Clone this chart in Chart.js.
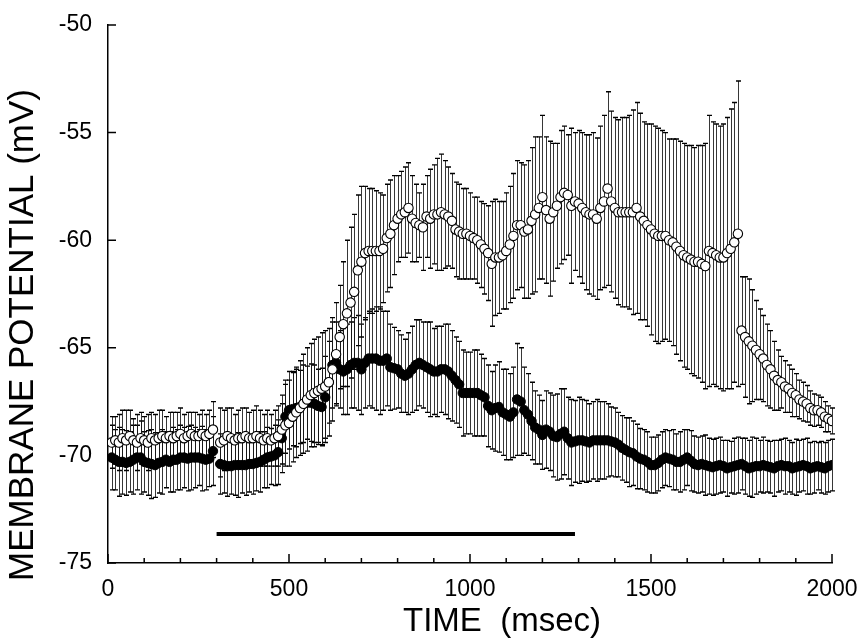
<!DOCTYPE html>
<html>
<head>
<meta charset="utf-8">
<script src="https://cdn.jsdelivr.net/npm/chart.js@4/dist/chart.umd.min.js"></script>
<style>
html,body{margin:0;padding:0;background:#fff;}
canvas{display:block;}
</style>
</head>
<body>
<canvas id="c" width="860" height="641"></canvas>
<script>
// ---- data (time in msec, membrane potential in mV) ----
const timeMs = [
 10,20,30,40,50,60,70,80,90,100,
 110,120,130,140,150,160,170,180,190,200,
 210,220,230,240,250,260,270,280,290,300,
 310,320,330,340,350,360,370,380,390,400,
 410,420,430,440,450,460,470,480,490,500,
 510,520,530,540,550,560,570,580,590,600,
 610,620,630,640,650,660,670,680,690,700,
 710,720,730,740,750,760,770,780,790,800,
 810,820,830,840,850,860,870,880,890,900,
 910,920,930,940,950,960,970,980,990,1000,
 1010,1020,1030,1040,1050,1060,1070,1080,1090,1100,
 1110,1120,1130,1140,1150,1160,1170,1180,1190,1200,
 1210,1220,1230,1240,1250,1260,1270,1280,1290,1300,
 1310,1320,1330,1340,1350,1360,1370,1380,1390,1400,
 1410,1420,1430,1440,1450,1460,1470,1480,1490,1500,
 1510,1520,1530,1540,1550,1560,1570,1580,1590,1600,
 1610,1620,1630,1640,1650,1660,1670,1680,1690,1700,
 1710,1720,1730,1740,1750,1760,1770,1780,1790,1800,
 1810,1820,1830,1840,1850,1860,1870,1880,1890,1900,
 1910,1920,1930,1940,1950,1960,1970,1980,1990,2000
];
// open circles: mean and error (mV)
const openMean = [
 -69.4,-69.3,-69.4,-69.2,-69.3,-69.1,-69.3,-69.4,-69.2,-69.3,
 -69.4,-69.2,-69.3,-69.2,-69.1,-69.2,-69.1,-69.2,-69.1,-69.0,
 -69.2,-69.1,-69.0,-69.1,-69.1,-69.0,-69.1,-69.0,-68.8,null,
 -69.4,-69.3,-69.1,-69.2,-69.3,-69.2,-69.2,-69.1,-69.2,-69.2,
 -69.1,-69.2,-69.3,-69.2,-69.3,-69.2,-69.1,-68.8,-68.6,-68.5,
 -68.2,-68.0,-67.8,-67.6,-67.4,-67.2,-67.1,-67.0,-66.9,-66.8,
 -66.6,-66.0,-65.3,-64.5,-63.9,-63.4,-62.9,-62.4,-61.4,-61.0,
 -60.6,-60.5,-60.5,-60.5,-60.5,-60.4,-59.9,-59.7,-59.3,-59.0,
 -58.8,-58.7,-58.5,-59.0,-59.2,-59.3,-59.4,-58.9,-59.0,-58.8,
 -58.8,-58.7,-58.8,-58.9,-59.1,-59.5,-59.6,-59.7,-59.7,-59.8,
 -59.9,-60.0,-60.2,-60.4,-60.6,-61.1,-60.8,-60.8,-60.7,-60.5,
 -60.2,-59.8,-59.3,-59.3,-59.6,-59.5,-59.1,-58.8,-58.5,-58.0,
 -58.6,-59.0,-58.7,-58.4,-58.0,-57.8,-57.9,-58.4,-58.2,-58.3,
 -58.5,-58.7,-58.8,-58.8,-59.0,-58.5,-58.2,-57.6,-58.2,-58.5,
 -58.7,-58.7,-58.7,-58.7,-58.7,-58.5,-58.9,-59.1,-59.3,-59.5,
 -59.7,-59.8,-59.8,-59.8,-60.0,-60.1,-60.3,-60.5,-60.7,-60.8,
 -60.9,-61.0,-61.0,-61.1,-61.2,-60.5,-60.6,-60.7,-60.8,-60.8,
 -60.6,-60.4,-60.1,-59.7,-64.2,-64.5,-64.7,-64.9,-65.1,-65.3,
 -65.5,-65.8,-66.0,-66.3,-66.5,-66.6,-66.8,-66.9,-67.1,-67.2,
 -67.4,-67.5,-67.6,-67.8,-67.9,-67.9,-68.0,-68.2,-68.3,-68.4
];
const openErr = [
 1.2,1.1,1.3,1.3,1.4,1.2,1.0,1.3,1.2,1.1,
 1.3,1.2,1.2,1.3,1.2,1.0,1.1,1.2,1.1,1.2,
 1.1,1.1,1.0,1.1,1.0,1.1,1.0,1.1,1.3,null,
 1.6,1.4,1.3,1.4,1.2,1.3,1.4,1.3,1.2,1.3,
 1.4,1.3,1.2,1.3,1.2,1.3,1.4,1.6,1.9,2.0,
 2.1,2.1,2.2,2.3,2.4,2.4,2.5,2.5,2.6,2.6,
 2.5,2.4,2.4,2.4,2.9,3.4,3.5,3.6,3.5,3.5,
 3.1,2.9,2.9,2.8,2.7,2.5,2.5,2.5,2.3,2.0,
 2.0,2.1,2.1,2.0,1.8,1.5,2.0,1.9,2.3,2.3,
 2.6,2.7,2.5,2.3,2.2,2.2,2.2,2.1,2.1,2.0,
 1.9,2.0,2.0,2.1,2.2,2.9,2.7,2.6,2.5,2.7,
 2.7,2.9,3.0,2.9,3.1,3.2,3.4,3.6,3.3,3.8,
 3.4,3.6,3.2,2.9,3.1,3.1,2.8,3.6,3.2,3.4,
 3.5,3.6,3.7,3.8,3.75,3.8,4.0,4.5,4.2,4.2,
 4.3,4.4,4.4,4.5,4.75,4.9,4.8,4.6,4.7,4.9,
 5.0,5.0,4.9,4.8,4.7,4.8,5.0,5.1,5.2,5.2,
 5.3,5.3,5.4,5.5,5.7,6.3,6.1,6.1,6.1,6.2,
 6.3,6.5,6.5,7.1,2.5,2.8,2.9,2.6,2.3,2.1,
 2.0,1.9,1.8,1.6,1.4,1.2,1.2,1.1,1.1,1.0,
 0.9,0.9,0.85,0.8,0.75,0.7,0.7,0.7,0.6,0.6
];
// filled circles: mean and error (mV)
const filledMean = [
 -70.1,-70.2,-70.3,-70.3,-70.35,-70.3,-70.2,-70.1,-70.1,-70.3,
 -70.35,-70.4,-70.45,-70.35,-70.3,-70.2,-70.3,-70.2,-70.2,-70.1,
 -70.1,-70.15,-70.1,-70.1,-70.1,-70.15,-70.2,-70.15,-69.8,null,
 -70.4,-70.45,-70.5,-70.5,-70.45,-70.45,-70.45,-70.45,-70.4,-70.4,
 -70.35,-70.3,-70.2,-70.1,-70.05,-70.0,-69.85,-69.2,-68.2,-67.9,
 -67.85,-67.8,-67.75,-67.6,-67.55,-67.55,-67.6,-67.7,-67.75,-67.3,
 -66.6,-65.8,-65.7,-66.0,-66.1,-66.0,-65.8,-65.7,-65.7,-66.0,
 -65.7,-65.5,-65.5,-65.5,-65.6,-65.6,-65.5,-65.9,-65.95,-66.0,
 -66.2,-66.3,-66.2,-66.0,-65.8,-65.7,-65.8,-65.9,-66.0,-66.1,
 -66.1,-66.0,-66.0,-66.1,-66.3,-66.5,-66.7,-67.1,-67.1,-67.1,
 -67.1,-67.1,-67.2,-67.3,-67.7,-67.9,-67.8,-67.75,-68.0,-68.1,
 -68.2,-68.0,-67.4,-67.5,-67.9,-68.1,-68.4,-68.7,-68.8,-69.05,
 -68.8,-68.9,-69.1,-69.15,-69.0,-68.9,-69.2,-69.4,-69.35,-69.3,
 -69.3,-69.35,-69.4,-69.3,-69.3,-69.3,-69.3,-69.3,-69.35,-69.4,
 -69.5,-69.65,-69.75,-69.85,-69.9,-70.05,-70.15,-70.2,-70.3,-70.45,
 -70.45,-70.35,-70.2,-70.1,-70.15,-70.2,-70.3,-70.3,-70.2,-70.1,
 -70.25,-70.4,-70.45,-70.4,-70.45,-70.5,-70.55,-70.5,-70.45,-70.5,
 -70.6,-70.55,-70.5,-70.45,-70.4,-70.5,-70.6,-70.55,-70.5,-70.5,
 -70.45,-70.5,-70.55,-70.6,-70.5,-70.45,-70.5,-70.5,-70.6,-70.55,
 -70.5,-70.45,-70.5,-70.6,-70.55,-70.5,-70.55,-70.6,-70.5,-70.45
];
const filledErr = [
 1.5,1.4,1.6,1.5,1.5,1.4,1.6,1.5,1.7,1.4,
 1.5,1.6,1.5,1.4,1.5,1.3,1.4,1.5,1.4,1.5,
 1.4,1.5,1.5,1.4,1.3,1.5,1.4,1.3,1.6,null,
 1.4,1.3,1.4,1.3,1.4,1.5,1.3,1.4,1.3,1.4,
 1.3,1.4,1.3,1.4,1.3,1.4,1.5,1.6,1.7,1.8,
 1.7,1.8,1.7,1.8,1.7,1.8,1.8,1.7,1.8,1.9,
 1.9,2.0,1.9,1.8,2.0,2.1,2.0,2.1,2.2,2.1,
 2.1,2.2,2.3,2.4,2.5,2.3,2.2,2.0,1.9,1.8,
 1.8,1.7,1.9,2.0,2.1,2.0,2.0,2.1,2.2,2.0,
 2.1,2.0,2.1,2.2,2.1,2.0,2.0,2.0,1.9,1.9,
 2.0,2.0,1.9,1.8,1.9,1.8,2.0,2.1,2.0,2.1,
 2.0,2.1,2.6,2.5,2.0,1.9,1.8,1.7,1.6,1.6,
 1.8,1.8,1.9,2.0,2.1,2.0,1.9,2.0,1.9,2.0,
 1.9,1.9,1.8,1.8,1.9,1.8,1.8,1.7,1.6,1.6,
 1.5,1.5,1.5,1.6,1.5,1.5,1.4,1.4,1.4,1.3,
 1.3,1.3,1.3,1.3,1.3,1.4,1.3,1.4,1.4,1.3,
 1.4,1.3,1.3,1.3,1.4,1.3,1.3,1.3,1.3,1.2,
 1.3,1.2,1.3,1.3,1.2,1.3,1.3,1.4,1.3,1.2,
 1.3,1.2,1.2,1.3,1.2,1.2,1.3,1.2,1.2,1.3,
 1.2,1.2,1.3,1.2,1.2,1.1,1.2,1.2,1.2,1.2
];
// stimulus bar
const stimStartMs = 300, stimEndMs = 1290, stimLevel = -73.65;
// axes
const xMin = 0, xMax = 2000, xMajorStep = 500, xMinorStep = 100;
const yMin = -75, yMax = -50, yStep = 5;
const xTitle = 'TIME  (msec)';
const yTitle = 'MEMBRANE POTENTIAL (mV)';

const FONT = "'Liberation Sans', Arial, Helvetica, sans-serif";

function pts(means){ return timeMs.map((t,i)=>({x:t, y:means[i]})); }

const errorBarPlugin = {
  id:'errbars',
  beforeDatasetsDraw(chart){
    const ctx = chart.ctx, xs = chart.scales.x, ys = chart.scales.y;
    const sets = [[filledMean, filledErr],[openMean, openErr]];
    ctx.save();
    for (const [m,e] of sets){
      for (let i=0;i<timeMs.length;i++){
        if (m[i]==null || e[i]==null) continue;
        const px = Math.round(xs.getPixelForValue(timeMs[i])) + 0.5;
        const top = ys.getPixelForValue(m[i]+e[i]);
        const bot = ys.getPixelForValue(m[i]-e[i]);
        ctx.strokeStyle = 'rgba(20,20,20,0.85)';
        ctx.lineWidth = 1;
        ctx.beginPath(); ctx.moveTo(px, top); ctx.lineTo(px, bot); ctx.stroke();
        ctx.strokeStyle = '#000';
        ctx.lineWidth = 1.4;
        ctx.beginPath();
        ctx.moveTo(px-2.5, top); ctx.lineTo(px+2.5, top);
        ctx.moveTo(px-2.5, bot); ctx.lineTo(px+2.5, bot);
        ctx.stroke();
      }
    }
    ctx.restore();
  }
};

const axisDecor = {
  id:'axisdecor',
  afterDraw(chart){
    const ctx = chart.ctx, xs = chart.scales.x, ys = chart.scales.y;
    const a = chart.chartArea;
    ctx.save();
    ctx.strokeStyle = '#000';
    ctx.lineWidth = 1.5;
    ctx.beginPath();
    for (const tk of xs.ticks){
      const px = xs.getPixelForValue(tk.value);
      const len = (tk.value % xMajorStep === 0) ? 9 : 5;
      ctx.moveTo(px, a.bottom); ctx.lineTo(px, a.bottom - len);
    }
    for (const tk of ys.ticks){
      const py = ys.getPixelForValue(tk.value);
      ctx.moveTo(a.left, py); ctx.lineTo(a.left + 8, py);
    }
    ctx.stroke();
    // titles
    ctx.fillStyle = '#000';
    ctx.textAlign = 'center';
    ctx.textBaseline = 'middle';
    ctx.font = '33px ' + FONT;
    ctx.fillText(xTitle, 502, 622);
    ctx.font = '35px ' + FONT;
    ctx.translate(23, 335);
    ctx.rotate(-Math.PI/2);
    ctx.fillText(yTitle, 0, 0);
    ctx.restore();
  }
};

function noOverhang(s){ s.paddingLeft = 0; s.paddingRight = 0; s.paddingTop = 0; s.paddingBottom = 0; }

new Chart(document.getElementById('c'), {
  type:'line',
  data:{
    datasets:[
      {
        label:'open', data: pts(openMean), showLine:false, order:0,
        pointRadius:4.7, pointHoverRadius:4.7, pointBackgroundColor:'#fff',
        pointBorderColor:'#000', pointBorderWidth:1.1
      },
      {
        label:'filled', data: pts(filledMean), showLine:false, order:1,
        pointRadius:4.7, pointHoverRadius:4.7, pointBackgroundColor:'#000',
        pointBorderColor:'#000', pointBorderWidth:1
      },
      {
        label:'stimulus', data:[{x:stimStartMs,y:stimLevel},{x:stimEndMs,y:stimLevel}],
        borderColor:'#000', borderWidth:4, pointRadius:0, order:2, borderCapStyle:'butt'
      }
    ]
  },
  options:{
    responsive:false,
    animation:false,
    devicePixelRatio:1,
    layout:{padding:{top:25,right:28,left:0,bottom:0}},
    plugins:{legend:{display:false}, tooltip:{enabled:false}},
    scales:{
      x:{
        type:'linear', min:xMin, max:xMax,
        grid:{display:false, drawTicks:false},
        border:{display:true, color:'#000', width:1.5},
        ticks:{
          stepSize:xMinorStep, autoSkip:false, maxRotation:0, padding:13,
          color:'#000', font:{size:23, family:FONT},
          callback:(v)=> (v % xMajorStep === 0) ? String(v) : ''
        },
        afterFit:(s)=>{ s.height = 641-563; noOverhang(s); }
      },
      y:{
        type:'linear', min:yMin, max:yMax,
        grid:{display:false, drawTicks:false},
        border:{display:true, color:'#000', width:1.5},
        ticks:{stepSize:yStep, padding:16, color:'#000', font:{size:23, family:FONT}},
        afterFit:(s)=>{ s.width = 108; noOverhang(s); }
      }
    }
  },
  plugins:[errorBarPlugin, axisDecor]
});
</script>
</body>
</html>
